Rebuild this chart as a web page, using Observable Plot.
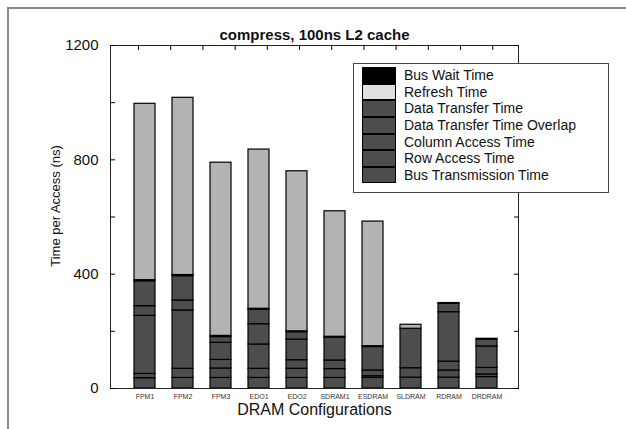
<!DOCTYPE html>
<html><head><meta charset="utf-8">
<script src="https://cdn.jsdelivr.net/npm/d3@7"></script>
<script src="https://cdn.jsdelivr.net/npm/@observablehq/plot@0.6"></script>
<style>
body{margin:0;background:#fff;font-family:"Liberation Sans",Arial,sans-serif;}
#wrap{position:relative;width:626px;height:429px;overflow:hidden;background:#fff;}
#wrap svg{position:absolute;left:0;top:0;}
#border{position:absolute;left:7px;top:7px;width:800px;height:800px;border-left:2px solid #8a8a8a;border-top:2px solid #8a8a8a;}
#legend{position:absolute;left:353px;top:63px;width:256px;height:130px;box-sizing:border-box;border:1px solid #444;background:#fff;}
.sw{position:absolute;left:8px;width:34px;box-sizing:border-box;border:1px solid #000;}
.lt{position:absolute;left:50px;font-size:14px;color:#111;white-space:nowrap;}
</style>
</head><body>
<div id="wrap"><div id="border"></div></div>
<script>
const title = "compress, 100ns L2 cache";
const yLabel = "Time per Access (ns)";
const xLabel = "DRAM Configurations";
const configs = ["FPM1","FPM2","FPM3","EDO1","EDO2","SDRAM1","ESDRAM","SLDRAM","RDRAM","DRDRAM"];
// components, bottom to top
const components = ["Bus Transmission Time","Row Access Time","Column Access Time","Data Transfer Time Overlap","Data Transfer Time","Refresh Time","Bus Wait Time"];
const busTransmission = [36, 37, 37, 37, 37, 37, 37, 38, 38, 40];
const rowAccess       = [15, 32, 33, 32, 32, 31, 6, 33, 25, 9];
const columnAccess    = [203, 204, 30, 85, 30, 30, 20, 0, 31, 23];
const dataOverlap     = [34, 35, 60, 71, 72, 0, 0, 0, 173, 75];
const dataTransfer    = [87, 85, 20, 50, 26, 80, 82, 138, 29, 24];
const refresh         = [4, 4, 4, 4, 3, 3, 3, 0, 3, 3];
const busWait         = [617, 620, 606, 557, 560, 439, 436, 14, 0, 0];
const yTicks = [0, 200, 400, 600, 800, 1000, 1200];
const yTickLabels = [0, 400, 800, 1200];
const topTicks = [1,2,3,4,5,6,7,8,9,10,11,12];
const legendOrder = ["Bus Wait Time","Refresh Time","Data Transfer Time","Data Transfer Time Overlap","Column Access Time","Row Access Time","Bus Transmission Time"];
const legendColors = ["#000000","#e0e0e0","#4d4d4d","#4d4d4d","#4d4d4d","#4d4d4d","#4d4d4d"];
const barColors = ["#4d4d4d","#4d4d4d","#4d4d4d","#4d4d4d","#4d4d4d","#4d4d4d","#b3b3b3"];

const series = [busTransmission,rowAccess,columnAccess,dataOverlap,dataTransfer,refresh,busWait];
const rows = [];
configs.forEach((c,i)=>{
  components.forEach((k,j)=>{
    if (series[j][i] > 0) rows.push({config:c, component:k, value:series[j][i]});
  });
});

const font = "Liberation Sans, Arial, sans-serif";
const W = 626, H = 429, mL = 110, mR = 108, mT = 45, mB = 41;

const mainPlot = Plot.plot({
  width: W, height: H,
  marginLeft: mL, marginRight: mR, marginTop: mT, marginBottom: mB,
  style: {fontFamily: font, background: "transparent", overflow: "visible"},
  x: {type: "band", domain: configs, paddingInner: 0.444, paddingOuter: 0.222, insetLeft: 13, insetRight: 10},
  y: {domain: [0, 1200]},
  color: {domain: components, range: barColors},
  marks: [
    Plot.barY(rows, {x: "config", y: "value", fill: "component", stroke: "#000", strokeWidth: 1.2}),
    Plot.frame({stroke: "#222", strokeWidth: 1}),
    Plot.axisX({tickSize: 0, tickPadding: 6, fontSize: 7, fill: "#333", label: null}),
    Plot.axisY(yTicks, {anchor: "left", tickSize: -5, tickPadding: 17, fontSize: 15, fill: "#111",
      tickFormat: d => yTickLabels.includes(d) ? String(d) : "", label: null}),
    Plot.axisY(yTicks, {anchor: "right", tickSize: -5, tickFormat: () => "", label: null}),
    Plot.text([title], {frameAnchor: "top", dy: -16, fontSize: 15, fontWeight: "bold", fill: "#111"}),
    Plot.text([xLabel], {frameAnchor: "bottom", dy: 26, fontSize: 16, fill: "#111"}),
    Plot.text([yLabel], {frameAnchor: "left", textAnchor: "middle", dx: -55, dy: -11, rotate: -90, fontSize: 13, fill: "#111"})
  ]
});

const topPlot = Plot.plot({
  width: W, height: H,
  marginLeft: mL, marginRight: mR, marginTop: mT, marginBottom: mB,
  style: {fontFamily: font, background: "transparent"},
  x: {type: "linear", domain: [0.13, 12.8], axis: null},
  y: {domain: [0, 1200], axis: null},
  marks: [
    Plot.ruleX(topTicks, {x: d => d, y1: 1200, y2: 1182.5, stroke: "#000"})
  ]
});

const wrap = document.getElementById("wrap");
wrap.appendChild(mainPlot);
wrap.appendChild(topPlot);

const lg = document.createElement("div");
lg.id = "legend";
const rowH = 16.6;
legendOrder.forEach((name,i)=>{
  const sw = document.createElement("div");
  sw.className = "sw";
  sw.style.top = (3.2 + i*rowH) + "px";
  sw.style.height = rowH + "px";
  sw.style.background = legendColors[i];
  lg.appendChild(sw);
  const t = document.createElement("div");
  t.className = "lt";
  t.style.top = (3.2 + i*rowH) + "px";
  t.style.lineHeight = rowH + "px";
  t.textContent = name;
  lg.appendChild(t);
});
wrap.appendChild(lg);
</script>
</body></html>
